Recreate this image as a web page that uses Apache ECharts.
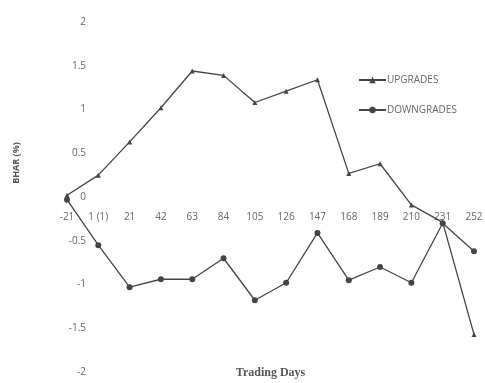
<!DOCTYPE html>
<html>
<head>
<meta charset="utf-8">
<script src="https://cdn.jsdelivr.net/npm/echarts@6/dist/echarts.min.js"></script>
<style>
  html, body { margin: 0; padding: 0; background: #fff; }
  #chart { width: 485px; height: 383px; }
</style>
</head>
<body>
<div id="chart"></div>
<script>
// trading days on the x axis
let days = ['-21', '1 (1)', '21', '42', '63', '84', '105', '126', '147', '168', '189', '210', '231', '252'];

let upgrades = [0.02, 0.25, 0.63, 1.02, 1.44, 1.39, 1.08, 1.21, 1.34, 0.27, 0.38, -0.09, -0.29, -1.57];
let downgrades = [-0.03, -0.55, -1.03, -0.94, -0.94, -0.70, -1.18, -0.98, -0.41, -0.95, -0.80, -0.98, -0.30, -0.62];

let myChart = echarts.init(document.getElementById('chart'));

let textColor = '#666';
let lineColor = '#444';

let option = {
    backgroundColor: '#fff',
    animation: false,
    textStyle: { fontFamily: 'Open Sans' },
    grid: { left: 67, right: 11, top: 22, bottom: 11, containLabel: false, outerBoundsMode: 'none' },
    legend: {
        orient: 'vertical',
        left: 353,
        top: 70,
        itemWidth: 27,
        itemHeight: 8,
        itemGap: 20,
        textStyle: { color: textColor, fontSize: 10, padding: [0, 0, 0, -4] },
        data: ['UPGRADES', 'DOWNGRADES']
    },
    xAxis: {
        type: 'category',
        boundaryGap: false,
        data: days,
        // labels sit just under the zero line (half the plot height up)
        position: 'bottom',
        offset: -175,
        axisLine: { show: false, onZero: false },
        axisTick: { show: false },
        axisLabel: { color: textColor, fontSize: 10, margin: 15, interval: 0 },
        name: 'Trading Days',
        nameLocation: 'middle',
        nameGap: 170,
        nameTextStyle: { color: '#555', fontFamily: 'Liberation Serif', fontSize: 12, fontWeight: 'bold' }
    },
    yAxis: {
        type: 'value',
        min: -2,
        max: 2,
        interval: 0.5,
        axisLine: { show: false },
        axisTick: { show: false },
        splitLine: { show: false },
        axisLabel: { inside: true, align: 'right', margin: 19, color: textColor, fontSize: 10 },
        name: 'BHAR (%)',
        nameLocation: 'middle',
        nameRotate: 90,
        nameGap: 46,
        nameTextStyle: { color: '#555', fontSize: 9, fontWeight: 'bold', padding: [0, 0, 0, 68] }
    },
    series: [
        {
            name: 'UPGRADES',
            type: 'line',
            data: upgrades,
            symbol: 'triangle',
            symbolSize: 5,
            lineStyle: { color: lineColor, width: 1.3 },
            itemStyle: { color: lineColor }
        },
        {
            name: 'DOWNGRADES',
            type: 'line',
            data: downgrades,
            symbol: 'circle',
            symbolSize: 6,
            lineStyle: { color: lineColor, width: 1.3 },
            itemStyle: { color: lineColor }
        }
    ]
};

myChart.setOption(option);
</script>
</body>
</html>
